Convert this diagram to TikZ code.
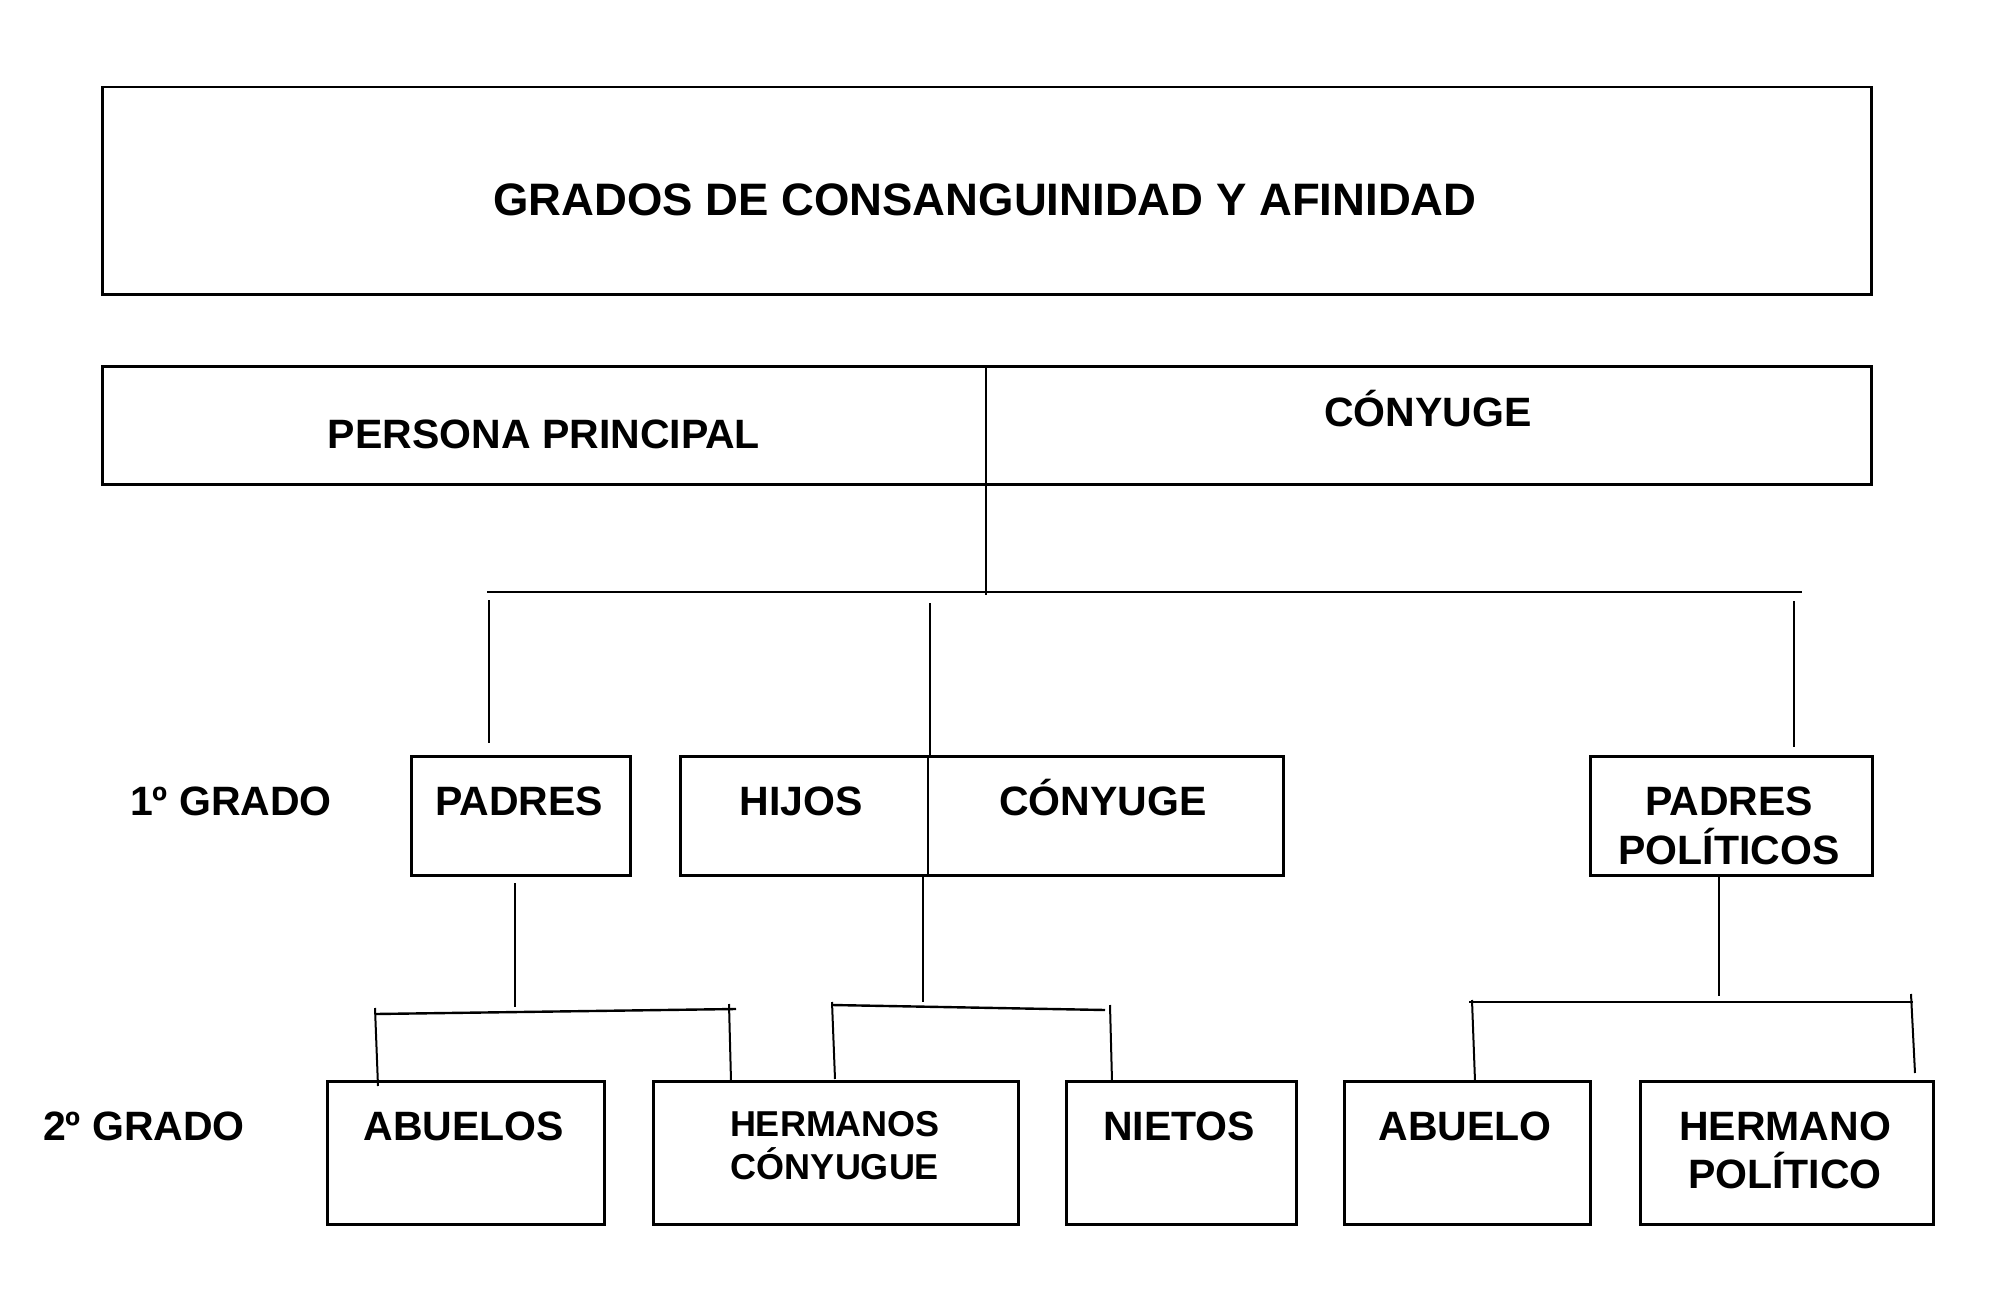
\documentclass[tikz,border=0pt]{standalone}
\usepackage{fontspec}
\setmainfont{Liberation Sans}
\begin{document}
\begin{tikzpicture}[x=1pt,y=-1pt,
  box/.style={draw, line width=2.5pt, rectangle, inner sep=0pt, anchor=north west},
  conn/.style={line width=2pt},
  lbl/.style={font=\bfseries\fontsize{41}{47}\selectfont, anchor=base, inner sep=0pt},
  lblsmall/.style={font=\bfseries\fontsize{36}{42}\selectfont, anchor=base, inner sep=0pt},
  lbltitle/.style={font=\bfseries\fontsize{45.5}{52}\selectfont, anchor=base, inner sep=0pt}]
\useasboundingbox[fill=white] (0,0) rectangle (1998,1316);

% boxes
\node[box, minimum width=1769pt, minimum height=207pt] (title) at (101,86) {};
\node[box, minimum width=1769pt, minimum height=118pt] (top) at (101,365) {};
\node[box, minimum width=219pt, minimum height=119pt] (padres) at (410,755) {};
\node[box, minimum width=603pt, minimum height=119pt] (hijos) at (679,755) {};
\node[box, minimum width=282pt, minimum height=119pt] (pp) at (1589,755) {};
\node[box, minimum width=277pt, minimum height=143pt] (abuelos) at (326,1080) {};
\node[box, minimum width=365pt, minimum height=143pt] (hermanos) at (652,1080) {};
\node[box, minimum width=230pt, minimum height=143pt] (nietos) at (1065,1080) {};
\node[box, minimum width=246pt, minimum height=143pt] (abuelo) at (1343,1080) {};
\node[box, minimum width=293pt, minimum height=143pt] (hermano) at (1639,1080) {};

% texts
\node[lbltitle] (ttitle) at (985,216) {GRADOS DE CONSANGUINIDAD Y AFINIDAD};
\node[lbl] (tpersona) at (544,448) {PERSONA PRINCIPAL};
\node[lbl] (tconyA) at (1428,426) {CÓNYUGE};
\node[lbl] (tgrado1) at (231,815) {1º GRADO};
\node[lbl] (tpadres) at (519,815) {PADRES};
\node[lbl] (thijos) at (801,815) {HIJOS};
\node[lbl] (tconyB) at (1103,815) {CÓNYUGE};
\node[lbl] (tpp1) at (1729,815) {PADRES};
\node[lbl] (tpp2) at (1729,864) {POLÍTICOS};
\node[lbl] (tgrado2) at (144,1140) {2º GRADO};
\node[lbl] (tabuelos) at (464,1140) {ABUELOS};
\node[lblsmall] (therm1) at (835,1136) {HERMANOS};
\node[lblsmall] (therm2) at (835,1179) {CÓNYUGUE};
\node[lbl] (tnietos) at (1179,1140) {NIETOS};
\node[lbl] (tabuelo) at (1465,1140) {ABUELO};
\node[lbl] (therm3) at (1785,1140) {HERMANO};
\node[lbl] (therm4) at (1785,1188) {POLÍTICO};

% coordinates for connectors
\coordinate (dtop) at (986,365);
\coordinate (dbot) at (986,595);
\coordinate (hL) at (487,592);
\coordinate (hR) at (1802,592);
\coordinate (v1a) at (489,600);
\coordinate (v1b) at (489,743);
\coordinate (v2a) at (930,603);
\coordinate (v2b) at (930,755);
\coordinate (v3a) at (1794,601);
\coordinate (v3b) at (1794,747);
\coordinate (hdA) at (928,755);
\coordinate (hdB) at (928,874);

% padres group
\coordinate (pa) at (515,883);
\coordinate (pb) at (515,1007);
\coordinate (ph1) at (376,1014);
\coordinate (ph2) at (736,1009);
\coordinate (pl1) at (375,1008);
\coordinate (pl2) at (378,1086);
\coordinate (pr1) at (729,1004);
\coordinate (pr2) at (731,1081);

% hijos group
\coordinate (ha) at (923,877);
\coordinate (hb) at (923,1002);
\coordinate (hh1) at (832,1005);
\coordinate (hh2) at (1105,1010);
\coordinate (hl1) at (832,1002);
\coordinate (hl2) at (835,1079);
\coordinate (hr1) at (1110,1005);
\coordinate (hr2) at (1112,1081);

% padres politicos group
\coordinate (qa) at (1719,875);
\coordinate (qb) at (1719,996);
\coordinate (qh1) at (1469,1002);
\coordinate (qh2) at (1913,1002);
\coordinate (ql1) at (1472,1000);
\coordinate (ql2) at (1475,1081);
\coordinate (qr1) at (1911,994);
\coordinate (qr2) at (1915,1073);

\draw[conn] (dtop) -- (dbot);
\draw[conn, line width=2.6pt] (hL) -- (hR);
\draw[conn] (v1a) -- (v1b);
\draw[conn] (v2a) -- (v2b);
\draw[conn] (v3a) -- (v3b);
\draw[conn] (hdA) -- (hdB);

\draw[conn] (pa) -- (pb);
\draw[conn, line width=2.4pt] (ph1) -- (ph2);
\draw[conn] (pl1) -- (pl2);
\draw[conn] (pr1) -- (pr2);

\draw[conn] (ha) -- (hb);
\draw[conn, line width=2.4pt] (hh1) -- (hh2);
\draw[conn] (hl1) -- (hl2);
\draw[conn] (hr1) -- (hr2);

\draw[conn] (qa) -- (qb);
\draw[conn, line width=2.4pt] (qh1) -- (qh2);
\draw[conn] (ql1) -- (ql2);
\draw[conn] (qr1) -- (qr2);
\end{tikzpicture}
\end{document}
